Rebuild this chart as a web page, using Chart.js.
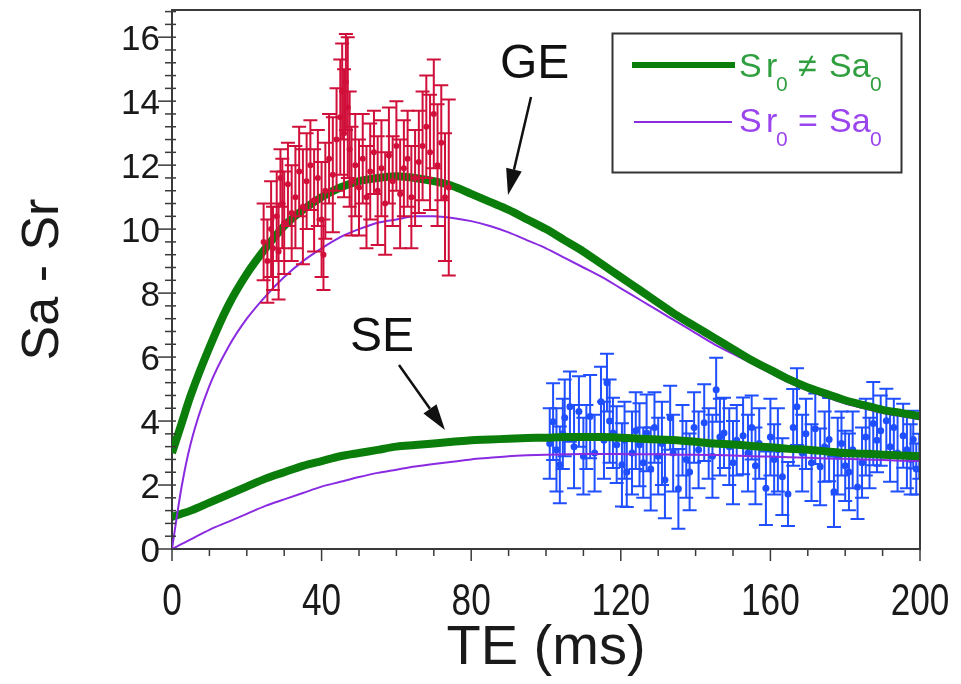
<!DOCTYPE html>
<html>
<head>
<meta charset="utf-8">
<script src="https://cdn.jsdelivr.net/npm/chart.js@4.4.1/dist/chart.umd.min.js"></script>
<style>
  html, body { margin: 0; padding: 0; background: #fff; }
</style>
</head>
<body>
<canvas id="chart" width="961" height="684"></canvas>
<script>
// Model curves (TE in ms)
var curveTE = [0, 2.5, 5, 10, 15, 20, 25, 30, 35, 40, 45, 50, 55, 60, 65, 70, 75, 80, 85, 90, 95,
               100, 105, 110, 115, 120, 125, 130, 135, 140, 145, 150, 155, 160, 165, 170, 175, 180, 185, 190, 195, 200];
var geFree  = [3.0, 3.9, 4.8, 6.3, 7.6, 8.6, 9.4, 10.1, 10.6, 11.0, 11.3, 11.5, 11.6, 11.65, 11.6, 11.5, 11.35, 11.1, 10.85, 10.6, 10.3,
               10.0, 9.65, 9.3, 8.9, 8.5, 8.1, 7.7, 7.3, 6.95, 6.6, 6.25, 5.9, 5.6, 5.3, 5.05, 4.85, 4.65, 4.5, 4.35, 4.25, 4.15];
var geEqual = [0, 1.9, 3.3, 5.1, 6.3, 7.2, 7.9, 8.5, 9.0, 9.4, 9.75, 10.0, 10.2, 10.3, 10.4, 10.4, 10.35, 10.25, 10.1, 9.9, 9.65,
               9.4, 9.1, 8.8, 8.5, 8.15, 7.8, 7.45, 7.1, 6.75, 6.4, 6.1, 5.8, 5.5, 5.2, 4.95, 4.75, 4.55, 4.4, 4.25, 4.15, 4.05];
var seFree  = [1.0, 1.1, 1.2, 1.45, 1.7, 1.95, 2.2, 2.4, 2.6, 2.75, 2.9, 3.0, 3.1, 3.2, 3.25, 3.3, 3.35, 3.4, 3.42, 3.45, 3.47,
               3.48, 3.5, 3.5, 3.5, 3.48, 3.45, 3.42, 3.4, 3.35, 3.3, 3.27, 3.22, 3.18, 3.13, 3.1, 3.05, 3.0, 2.98, 2.95, 2.92, 2.9];
var seEqual = [0, 0.15, 0.3, 0.6, 0.85, 1.1, 1.35, 1.55, 1.75, 1.95, 2.1, 2.25, 2.38, 2.48, 2.58, 2.66, 2.73, 2.8, 2.85, 2.9, 2.93,
               2.95, 2.96, 2.97, 2.97, 2.97, 2.96, 2.96, 2.95, 2.95, 2.94, 2.92, 2.9, 2.89, 2.87, 2.85, 2.83, 2.82, 2.8, 2.78, 2.76, 2.75];

// GE measurements
var redTE  = [24.5, 25.5, 26.5, 27, 28, 28.5, 29, 29.5, 30, 31, 32, 33, 34, 35, 36, 37, 38, 39, 40, 40.5, 41, 42, 43, 44, 45, 45.5,
              46, 46.5, 47, 47.5, 48, 49, 50, 51, 52, 53, 54, 55, 56, 57, 58, 59, 60, 61, 62, 63, 64, 65, 66, 67, 68, 69,
              70, 71, 72, 73, 74];
var redVal = [9.6, 9.0, 10.0, 9.4, 10.4, 9.3, 11.6, 10.8, 10.2, 11.4, 10.5, 11.0, 11.8, 10.7, 11.5, 12.0, 10.9, 11.6, 10.3, 9.2, 11.2, 12.2, 11.7, 12.8, 13.5, 14.3,
              13.0, 14.6, 13.8, 12.5, 11.5, 12.0, 11.3, 12.2, 11.0, 11.8, 12.4, 11.2, 11.9, 10.8, 12.3, 11.5, 12.6, 11.1, 11.9, 12.2, 11.0, 11.6, 12.1, 12.6, 13.2, 12.4,
              13.6, 12.0, 12.7, 11.0, 11.3];
var redErr = [1.2, 1.3, 1.5, 1.3, 1.4, 1.5, 0.9, 1.4, 1.6, 1.3, 1.5, 1.6, 1.4, 1.8, 1.5, 1.4, 1.6, 1.5, 1.8, 1.1, 1.5, 1.4, 1.8, 1.6, 1.8, 1.5,
              2.0, 1.5, 2.2, 1.8, 1.7, 1.6, 1.5, 1.4, 1.6, 1.5, 1.3, 1.7, 1.5, 1.6, 1.5, 1.4, 1.4, 1.7, 1.5, 1.5, 1.6, 1.5, 1.6, 1.7, 1.6, 1.8,
              1.7, 1.9, 1.8, 2.0, 2.75];

// SE measurements
var blueTE  = [101, 101.9, 102.8, 103.7, 104.5, 105, 106.4, 107.5, 108.8, 110, 110.8, 111.8, 113, 114.7, 115.5, 116.3, 117, 117.9, 118.9,
               120.3, 121, 121.6, 123, 124, 125, 126, 126.9, 128, 129, 130, 131, 131.8, 133.2, 134, 135.4, 136.5, 137.5, 138.4, 139.6,
               140.8, 142.3, 143.5, 144.5, 145.5, 146.5, 147.6, 149, 150, 151, 152.7, 154, 155, 156, 157, 158.8, 160, 161, 162, 163.2,
               164.7, 166.1, 167.1, 168.5, 169.5, 171, 172, 173.3, 174.5, 175.7, 177, 178, 179, 180, 181, 182, 183.3, 184.5, 185.5,
               186.5, 187.5, 188.5, 189.5, 191, 192, 193, 194, 195.5, 196.5, 197.5, 198.2, 199, 199.8];
var blueVal = [3.3, 3.98, 3.1, 2.63, 3.6, 4.1, 4.45, 3.2, 4.3, 2.9, 3.5, 4.14, 3.0, 4.6, 3.4, 5.2, 4.0, 3.63, 3.26,
               2.63, 3.4, 2.41, 3.0, 3.7, 3.26, 2.7, 3.63, 2.5, 3.8, 2.9, 3.3, 2.16, 4.1, 3.0, 1.88, 3.4, 2.8, 2.41, 3.8,
               3.1, 3.95, 3.3, 2.9, 4.98, 3.5, 3.63, 3.2, 2.7, 3.4, 3.54, 3.0, 3.8, 2.6, 3.3, 1.9, 3.5, 2.8, 3.1, 2.26,
               1.72, 3.8, 4.45, 3.0, 3.6, 2.7, 3.76, 2.57, 3.2, 3.42, 1.79, 2.9, 3.3, 2.6, 2.41, 3.1, 1.94, 2.7, 3.5,
               3.0, 3.92, 3.4, 3.7, 4.01, 3.2, 3.8, 3.0, 3.54, 3.1, 2.8, 3.42, 2.5, 2.9];
var blueErr = [1.1, 1.2, 1.3, 1.2, 1.1, 1.2, 1.1, 1.3, 1.1, 1.2, 1.0, 1.3, 1.2, 1.1, 1.2, 0.9, 1.3, 1.1, 1.2,
               1.3, 1.2, 1.1, 1.3, 1.2, 1.3, 1.1, 1.2, 1.3, 1.1, 1.2, 1.3, 1.2, 1.0, 1.2, 1.25, 1.1, 1.2, 1.2, 1.1,
               1.2, 1.2, 1.1, 1.3, 1.0, 1.2, 1.1, 1.2, 1.3, 1.1, 1.2, 1.2, 1.0, 1.2, 1.1, 1.15, 1.2, 1.1, 1.3, 1.2,
               1.0, 1.2, 1.2, 1.2, 1.1, 1.2, 1.1, 1.2, 1.1, 1.3, 1.1, 1.2, 1.0, 1.1, 1.2, 1.2, 1.0, 1.1, 1.2,
               1.1, 1.3, 1.0, 1.1, 1.0, 1.1, 0.9, 1.2, 1.0, 1.2, 1.1, 0.9, 0.8, 0.7];

var xTicks = [0, 40, 80, 120, 160, 200];
var yTicks = [0, 2, 4, 6, 8, 10, 12, 14, 16];

var GREEN = '#0a7d0a', PURPLE = '#8a2be2', RED = '#d0103a', BLUE = '#1f4fff';
var AXIS = '#3a3a3a', INK = '#1a1a1a';
var SANS = '"Liberation Sans", Arial, sans-serif';

function toPoints(xs, ys) {
    return xs.map(function (x, i) { return { x: x, y: ys[i] }; });
}

// Draws vertical error bars with caps for datasets that carry an errors array
var errorBarPlugin = {
    id: 'errorBars',
    afterDatasetDraw: function (chart, args) {
        var ds = chart.data.datasets[args.index];
        if (!ds.errors) return;
        var ctx = chart.ctx, xs = chart.scales.x, ys = chart.scales.y, a = chart.chartArea;
        ctx.save();
        ctx.beginPath();
        ctx.rect(a.left, a.top, a.right - a.left, a.bottom - a.top);
        ctx.clip();
        ctx.strokeStyle = ds.borderColor;
        ctx.lineWidth = 2;
        ds.data.forEach(function (p, i) {
            var px = xs.getPixelForValue(p.x);
            var top = ys.getPixelForValue(p.y + ds.errors[i]);
            var bot = ys.getPixelForValue(p.y - ds.errors[i]);
            ctx.beginPath();
            ctx.moveTo(px, top); ctx.lineTo(px, bot);
            ctx.moveTo(px - 7, top); ctx.lineTo(px + 7, top);
            ctx.moveTo(px - 7, bot); ctx.lineTo(px + 7, bot);
            ctx.stroke();
        });
        ctx.restore();
    }
};

function arrow(ctx, x1, y1, x2, y2) {
    var ang = Math.atan2(y2 - y1, x2 - x1), len = 26, half = 8;
    var bx = x2 - len * Math.cos(ang), by = y2 - len * Math.sin(ang);
    ctx.beginPath();
    ctx.moveTo(x1, y1); ctx.lineTo(bx, by);
    ctx.stroke();
    ctx.beginPath();
    ctx.moveTo(x2, y2);
    ctx.lineTo(bx + half * Math.sin(ang), by - half * Math.cos(ang));
    ctx.lineTo(bx - half * Math.sin(ang), by + half * Math.cos(ang));
    ctx.closePath();
    ctx.fill();
}

// Frame, tick marks + labels, legend box and the GE / SE annotations
var decorPlugin = {
    id: 'decor',
    afterDraw: function (chart) {
        var ctx = chart.ctx, xs = chart.scales.x, ys = chart.scales.y, a = chart.chartArea;
        ctx.save();
        ctx.strokeStyle = AXIS;
        ctx.lineWidth = 2;
        // top and right frame
        ctx.beginPath();
        ctx.moveTo(a.left, a.top); ctx.lineTo(a.right, a.top); ctx.lineTo(a.right, a.bottom);
        ctx.stroke();

        // x tick marks
        ctx.lineWidth = 1.5;
        for (var v = 0; v <= 200; v += 10) {
            var px = xs.getPixelForValue(v);
            var len = (v % 40 === 0) ? 12 : 7;
            ctx.beginPath(); ctx.moveTo(px, a.bottom); ctx.lineTo(px, a.bottom + len); ctx.stroke();
        }
        // y tick marks
        for (var k = 0; k <= 42; k++) {
            var py = ys.getPixelForValue(k * 0.4);
            var major = (k % 5 === 0);
            ctx.beginPath();
            ctx.moveTo(a.left - (major ? 14 : 7), py); ctx.lineTo(a.left + 4, py);
            ctx.stroke();
        }

        // tick labels (x labels are set in a condensed face)
        ctx.fillStyle = INK;
        ctx.font = '44px ' + SANS;
        ctx.textAlign = 'center';
        ctx.textBaseline = 'alphabetic';
        xTicks.forEach(function (t) {
            var px = xs.getPixelForValue(t);
            ctx.save();
            ctx.translate(px, 615);
            ctx.scale(0.8, 1);
            ctx.fillText(String(t), 0, 0);
            ctx.restore();
        });
        ctx.font = '35px ' + SANS;
        ctx.textAlign = 'right';
        yTicks.forEach(function (t) {
            ctx.fillText(String(t), 160, ys.getPixelForValue(t) + 12.5);
        });

        // legend box
        ctx.lineWidth = 2;
        ctx.strokeStyle = '#333';
        ctx.strokeRect(612.5, 33.5, 289, 139);
        ctx.strokeStyle = GREEN;
        ctx.lineWidth = 6;
        ctx.beginPath(); ctx.moveTo(632, 65); ctx.lineTo(735, 65); ctx.stroke();
        ctx.strokeStyle = PURPLE;
        ctx.lineWidth = 2;
        ctx.beginPath(); ctx.moveTo(634, 122); ctx.lineTo(732, 122); ctx.stroke();

        ctx.textAlign = 'left';
        var big = '34px ' + SANS;
        var sub = '21px ' + SANS;
        var rows = [
            { color: '#2f9f3f', y: 77, sign: '\u2260' },
            { color: '#9b45ee', y: 132, sign: '=' }
        ];
        rows.forEach(function (r) {
            ctx.fillStyle = r.color;
            ctx.font = big;
            ctx.fillText('S', 739, r.y);
            ctx.fillText('r', 766, r.y);
            ctx.fillText(r.sign, 798, r.y);
            ctx.fillText('Sa', 829, r.y);
            ctx.font = sub;
            ctx.fillText('0', 776, r.y + 14);
            ctx.fillText('0', 870, r.y + 14);
        });

        // annotations
        ctx.fillStyle = '#111';
        ctx.strokeStyle = '#111';
        ctx.font = '48px ' + SANS;
        ctx.fillText('GE', 500, 78);
        ctx.fillText('SE', 350, 351);
        ctx.lineWidth = 2.5;
        arrow(ctx, 531, 97, 508, 195);
        arrow(ctx, 399, 365, 445, 430);
        ctx.restore();
    }
};

var ctx = document.getElementById('chart').getContext('2d');

var myChart = new Chart(ctx, {
    type: 'scatter',
    data: {
        datasets: [
            {
                label: 'GE data',
                data: toPoints(redTE, redVal),
                errors: redErr,
                borderColor: RED,
                backgroundColor: RED,
                pointRadius: 3,
                pointBorderWidth: 0,
                showLine: false
            },
            {
                label: 'GE Sr0 != Sa0',
                data: toPoints(curveTE, geFree),
                borderColor: GREEN,
                borderWidth: 8,
                pointRadius: 0,
                showLine: true,
                cubicInterpolationMode: 'monotone'
            },
            {
                label: 'GE Sr0 = Sa0',
                data: toPoints(curveTE, geEqual),
                borderColor: PURPLE,
                borderWidth: 2,
                pointRadius: 0,
                showLine: true,
                cubicInterpolationMode: 'monotone'
            },
            {
                label: 'SE Sr0 != Sa0',
                data: toPoints(curveTE, seFree),
                borderColor: GREEN,
                borderWidth: 8,
                pointRadius: 0,
                showLine: true,
                cubicInterpolationMode: 'monotone'
            },
            {
                label: 'SE Sr0 = Sa0',
                data: toPoints(curveTE, seEqual),
                borderColor: PURPLE,
                borderWidth: 2,
                pointRadius: 0,
                showLine: true,
                cubicInterpolationMode: 'monotone'
            },
            {
                label: 'SE data',
                data: toPoints(blueTE, blueVal),
                errors: blueErr,
                borderColor: BLUE,
                backgroundColor: BLUE,
                pointRadius: 3.5,
                pointBorderWidth: 0,
                showLine: false
            }
        ]
    },
    options: {
        responsive: false,
        animation: false,
        devicePixelRatio: 1,
        layout: { padding: { top: 10, right: 41, left: 0, bottom: 0 } },
        plugins: {
            legend: { display: false },
            tooltip: { enabled: false }
        },
        scales: {
            x: {
                type: 'linear',
                min: 0,
                max: 200,
                afterFit: function (s) { s.height = 135; },
                grid: { display: false, drawTicks: false },
                border: { display: true, color: AXIS, width: 2 },
                ticks: { display: false },
                title: {
                    display: true,
                    text: 'TE (ms)',
                    color: INK,
                    font: { family: SANS, size: 56 },
                    padding: { top: 0, bottom: 2 }
                }
            },
            y: {
                type: 'linear',
                min: 0,
                max: 16.85,
                afterFit: function (s) { s.width = 172; },
                grid: { display: false, drawTicks: false },
                border: { display: true, color: AXIS, width: 2 },
                ticks: { display: false },
                title: {
                    display: true,
                    text: 'Sa - Sr',
                    color: INK,
                    font: { family: SANS, size: 52 },
                    padding: { top: 12, bottom: 0 }
                }
            }
        }
    },
    plugins: [errorBarPlugin, decorPlugin]
});
</script>
</body>
</html>
